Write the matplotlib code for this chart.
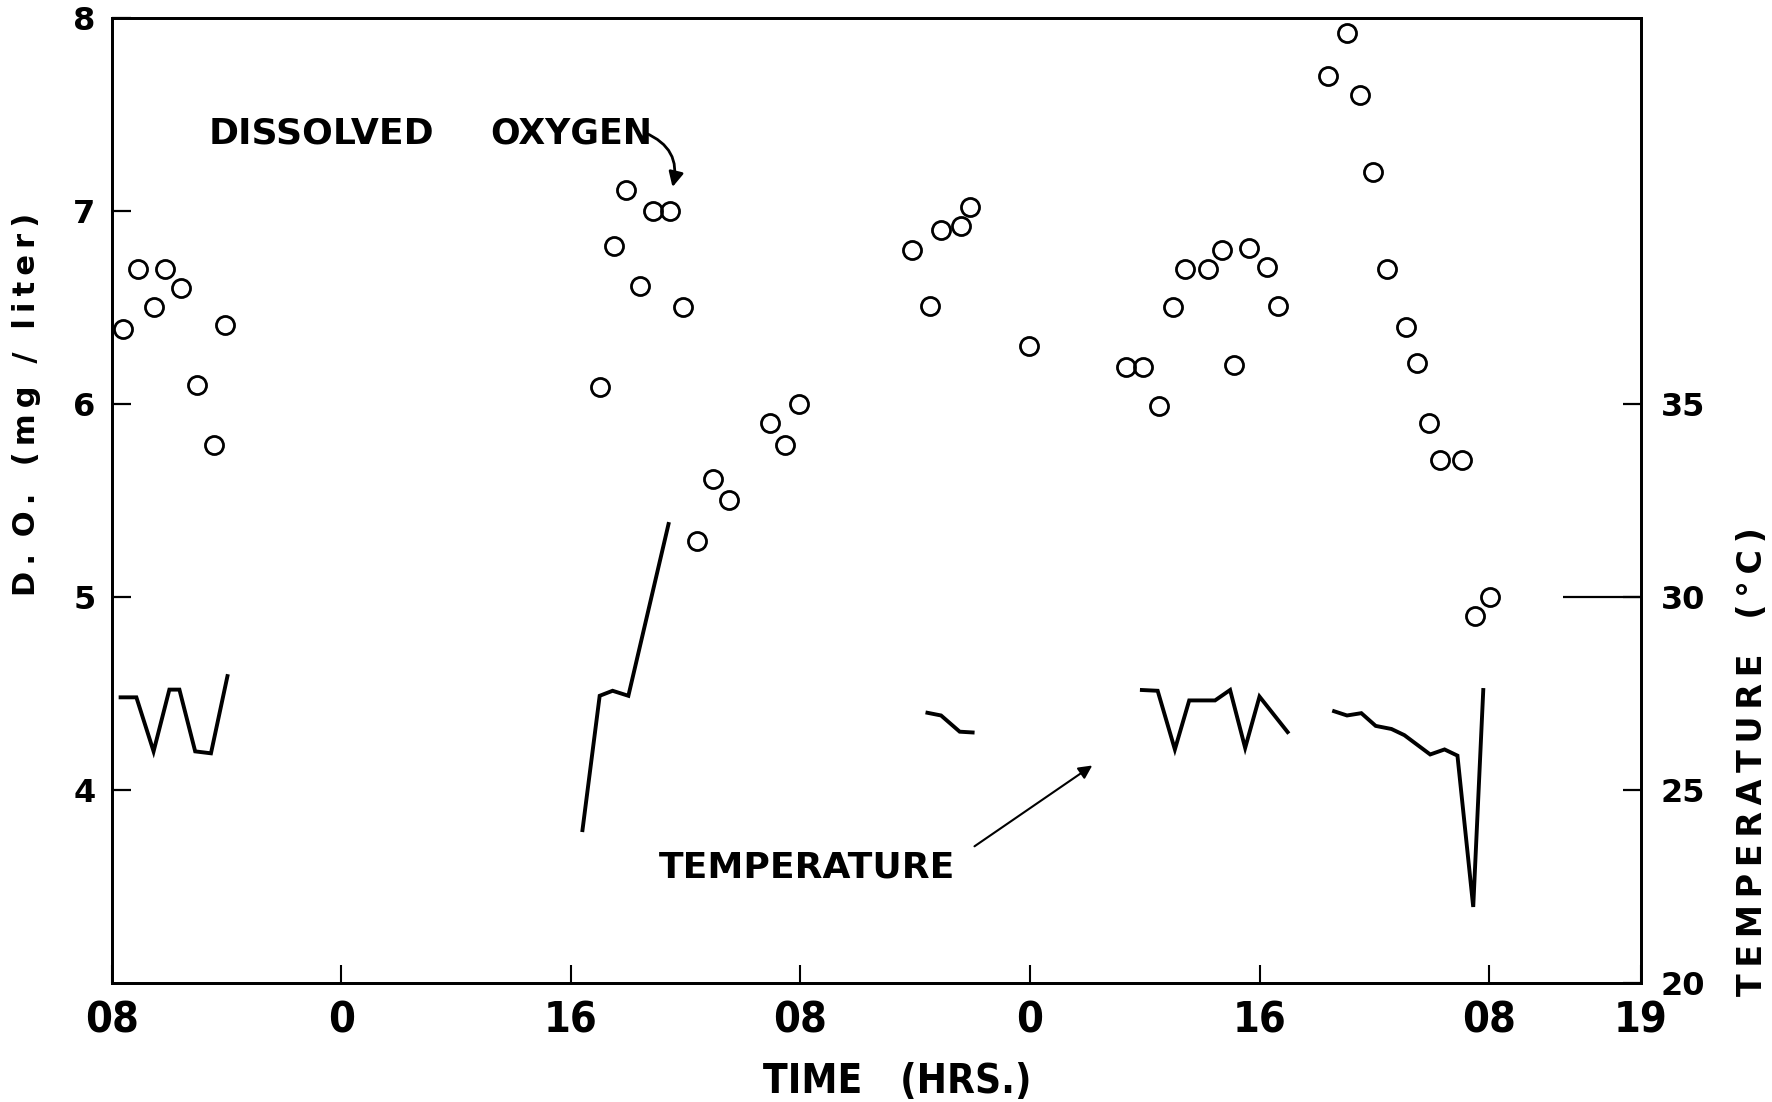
import matplotlib
matplotlib.use("Agg")
import matplotlib.pyplot as plt
from matplotlib import font_manager
from matplotlib.font_manager import FontProperties

# ---- dissolved oxygen samples (time in hours from 08:00 on the first day, mg/liter)
do_hours_1 = [0.8, 1.8, 2.9, 3.7, 4.8, 5.9, 7.1, 7.9]
do_vals_1 = [6.39, 6.70, 6.50, 6.70, 6.60, 6.10, 5.79, 6.41]

do_hours_2 = [34.0, 35.0, 35.8, 36.8, 37.7, 38.9, 39.8, 40.8, 41.9, 43.0, 45.9, 46.9, 47.9]
do_vals_2 = [6.09, 6.82, 7.11, 6.61, 7.00, 7.00, 6.50, 5.29, 5.61, 5.50, 5.90, 5.79, 6.00]

do_hours_3 = [55.8, 57.0, 57.8, 59.2, 59.8, 63.9]
do_vals_3 = [6.80, 6.51, 6.90, 6.92, 7.02, 6.30]

do_hours_4 = [70.7, 71.9, 73.0, 74.0, 74.8, 76.4, 77.4, 78.2, 79.3, 80.5, 81.3]
do_vals_4 = [6.19, 6.19, 5.99, 6.50, 6.70, 6.70, 6.80, 6.20, 6.81, 6.71, 6.51]

do_hours_5 = [84.8, 86.1, 87.0, 87.9, 88.9, 90.2, 91.0, 91.8, 92.6, 94.1, 95.0, 96.1]
do_vals_5 = [7.70, 7.92, 7.60, 7.20, 6.70, 6.40, 6.21, 5.90, 5.71, 5.71, 4.90, 5.00]

# ---- water temperature records (deg C)
temp_hours_1 = [0.6, 1.7, 2.9, 4.0, 4.7, 5.8, 6.9, 8.05]
temp_vals_1 = [27.4, 27.4, 26.0, 27.6, 27.6, 26.0, 25.95, 27.95]

temp_hours_2 = [32.8, 34.0, 34.9, 36.0, 38.8]
temp_vals_2 = [23.96, 27.44, 27.57, 27.44, 31.89]

temp_hours_3 = [56.85, 57.8, 59.1, 60.0]
temp_vals_3 = [27.0, 26.93, 26.51, 26.49]

temp_hours_4 = [71.8, 72.9, 74.1, 75.1, 76.9, 77.95, 79.0, 80.0, 81.96]
temp_vals_4 = [27.59, 27.57, 26.05, 27.32, 27.32, 27.59, 26.09, 27.42, 26.50]

temp_hours_5 = [85.2, 86.1, 87.1, 88.1, 89.2, 90.1, 91.0, 91.9, 92.9, 93.8, 94.9, 95.6]
temp_vals_5 = [27.04, 26.93, 26.99, 26.66, 26.58, 26.42, 26.17, 25.92, 26.05, 25.89, 21.97, 27.59]

# ---- axis ticks
time_ticks = [0, 16, 32, 48, 64, 80, 96, 106.6]
time_labels = ["08", "0", "16", "08", "0", "16", "08", "19"]
do_ticks = [4, 5, 6, 7, 8]
temp_ticks = [20, 25, 30, 35]

do_series = [(do_hours_1, do_vals_1), (do_hours_2, do_vals_2), (do_hours_3, do_vals_3),
             (do_hours_4, do_vals_4), (do_hours_5, do_vals_5)]
temp_series = [(temp_hours_1, temp_vals_1), (temp_hours_2, temp_vals_2),
               (temp_hours_3, temp_vals_3), (temp_hours_4, temp_vals_4),
               (temp_hours_5, temp_vals_5)]


def narrow_bold_font(size):
    """Pick a condensed bold face if one is installed, else plain bold sans."""
    best = None
    for f in font_manager.fontManager.ttflist:
        name = f.name.lower()
        narrowish = ("condensed" in name or "narrow" in name or
                     f.stretch in ("condensed", "semi-condensed", "extra-condensed",
                                   "ultra-condensed"))
        if not narrowish:
            continue
        w = f.weight if isinstance(f.weight, int) else (700 if "bold" in str(f.weight) else 400)
        score = abs(w - 700) + (0 if "sans" in name else 50)
        if best is None or score < best[0]:
            best = (score, f.fname)
    if best is not None:
        return FontProperties(fname=best[1], size=size)
    return FontProperties(family="DejaVu Sans", weight="bold", size=size)


def spaced(s, gap="\u2009"):
    """Open up the letter spacing of a caption."""
    return gap.join(s)


plt.rcParams["font.family"] = ["DejaVu Sans"]
plt.rcParams["font.weight"] = "bold"

fig = plt.figure(figsize=(17.72, 11.02), dpi=100)
fig.patch.set_facecolor("white")
ax = fig.add_axes([0.0632, 0.108, 0.8629, 0.8757])
ax2 = ax.twinx()

ax.set_xlim(0, 106.6)
ax.set_ylim(3, 8)
ax2.set_ylim(20, 45)

for hrs, vals in do_series:
    ax.plot(hrs, vals, linestyle="none", marker="o", ms=13, mfc="none",
            mec="black", mew=2.0)

for hrs, vals in temp_series:
    ax2.plot(hrs, vals, color="black", lw=2.8, solid_joinstyle="miter")

for a in (ax, ax2):
    for s in a.spines.values():
        s.set_linewidth(2.0)

# bottom axis
tick_font = narrow_bold_font(31)
ax.set_xticks(time_ticks)
ax.set_xticklabels(time_labels, fontproperties=tick_font)
ax.tick_params(axis="x", direction="in", length=13, width=1.5, pad=12, top=False)

# left axis
ax.set_yticks(do_ticks)
ax.set_yticklabels([str(t) for t in do_ticks], fontsize=23, fontweight="bold")
ax.tick_params(axis="y", direction="in", length=14, width=1.6, pad=12, right=False)

# right axis, with a long tick marking 30 degrees
ax2.set_yticks(temp_ticks)
ax2.set_yticklabels([str(t) for t in temp_ticks], fontsize=23, fontweight="bold")
ax2.yaxis.remove_overlapping_locs = False
ax2.set_yticks([30], minor=True)
ax2.tick_params(axis="y", which="major", direction="in", length=13, width=1.6, pad=14)
ax2.tick_params(axis="y", which="minor", direction="in", length=56, width=1.6)

# axis titles
fig.text(27 / 1772, 1 - 404 / 1102,
         spaced("D.") + "\u2009 " + spaced("O.") + "\u2009  " + spaced("(mg / liter)"),
         rotation=90, ha="center", va="center", fontsize=22, fontweight="bold")
fig.text(1753 / 1772, 1 - 762 / 1102,
         spaced("TEMPERATURE") + "   " + spaced("(°C)"), rotation=90,
         ha="center", va="center", fontsize=24, fontweight="bold")
fig.text(897 / 1772, 1 - 1082 / 1102, "TIME   (HRS.)", ha="center", va="center",
         fontproperties=narrow_bold_font(29))

# curve labels with pointers
ax.text(6.76, 7.40, "DISSOLVED", ha="left", va="center", fontsize=26, fontweight="bold")
ax.text(26.4, 7.40, "OXYGEN", ha="left", va="center", fontsize=25, fontweight="bold")
ax.annotate("", xy=(39.03, 7.11), xytext=(37.0, 7.41),
            arrowprops=dict(arrowstyle="-|>", connectionstyle="arc3,rad=-0.45",
                            lw=2.0, color="black", mutation_scale=22))

ax.text(38.1, 3.60, "TEMPERATURE", ha="left", va="center", fontsize=26, fontweight="bold")
ax.annotate("", xy=(68.5, 4.135), xytext=(59.97, 3.70),
            arrowprops=dict(arrowstyle="-|>", lw=1.5, color="black", mutation_scale=20))

fig.savefig("out.png", dpi=100, facecolor="white")
